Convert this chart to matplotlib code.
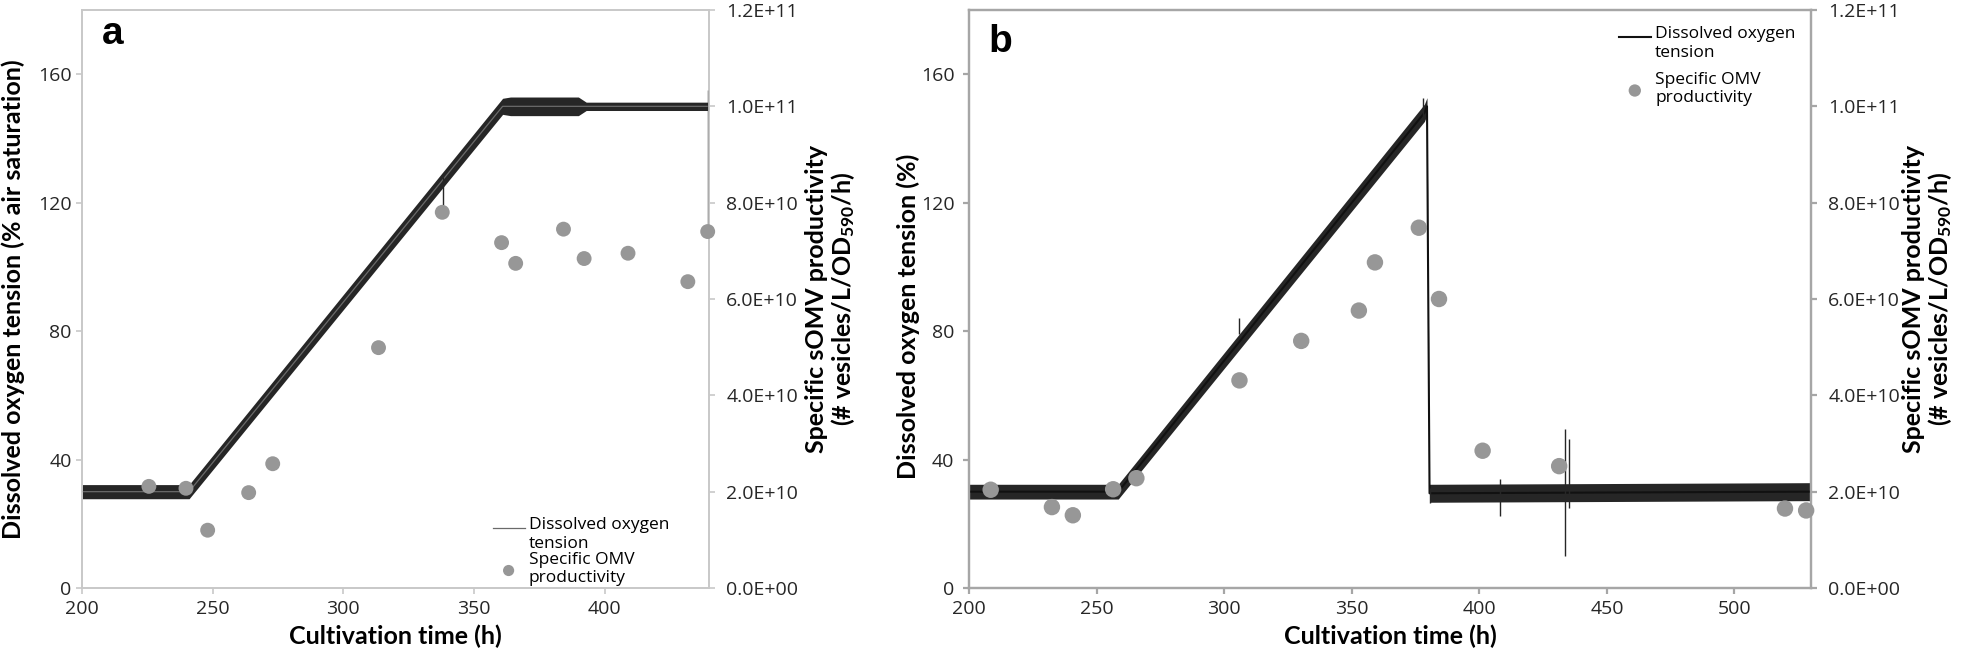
#!/usr/bin/env python3
import numpy as np
import matplotlib
matplotlib.use("Agg")
import matplotlib.pyplot as plt
from matplotlib.legend_handler import HandlerLine2D, HandlerPathCollection

plt.rcParams['font.family'] = ['Open Sans', 'Noto Sans', 'DejaVu Sans']
plt.rcParams['mathtext.fontset'] = 'custom'
plt.rcParams['mathtext.bf'] = 'Lato:bold'
plt.rcParams['mathtext.rm'] = 'Lato:bold'
plt.rcParams['mathtext.default'] = 'bf'

# ---- panel a: dissolved oxygen trace (centre line + noise half-width, % air sat.)
do_a_t = [200, 241, 361, 364, 390, 393, 440]
do_a_v = [30, 30, 150, 150, 150, 150, 150]
do_a_w = [2.2, 2.2, 2.5, 2.9, 2.9, 1.3, 1.3]
# isolated spikes (time, low, high)
spikes_a = [(338, 119, 128), (439.6, 113, 155)]

# specific OMV productivity (vesicles/L/OD590/h)
omv_a_t = [225.6, 239.8, 248.1, 263.8, 273.0, 313.5, 337.9, 360.6, 366.0,
           384.3, 392.2, 409.0, 431.9, 439.5]
omv_a_v = [2.11e10, 2.07e10, 1.20e10, 1.98e10, 2.58e10, 4.99e10, 7.80e10, 7.17e10,
           6.74e10, 7.45e10, 6.84e10, 6.95e10, 6.36e10, 7.40e10]

# ---- panel b
do_b_t = [200, 258.5, 378.5, 379.5, 380.5, 530]
do_b_v = [30, 30, 148, 150, 29.5, 30]
do_b_w = [2.3, 2.3, 2.7, 2.7, 2.8, 2.8]
spikes_b = [(408, 22.5, 34), (433.5, 10, 49.5), (435, 25, 46.5), (530, 27, 34),
            (380.5, 26.5, 31), (306, 79, 84), (378, 146, 152.5)]

omv_b_t = [208.5, 232.5, 240.7, 256.5, 265.6, 306.0, 330.2, 352.8, 359.1,
           376.3, 384.2, 401.3, 431.3, 519.8, 528.1]
omv_b_v = [2.04e10, 1.68e10, 1.51e10, 2.05e10, 2.28e10, 4.31e10, 5.13e10, 5.76e10,
           6.76e10, 7.48e10, 6.00e10, 2.85e10, 2.53e10, 1.65e10, 1.61e10]

left_ticks = [0, 40, 80, 120, 160]
right_ticks = [0, 2e10, 4e10, 6e10, 8e10, 1e11, 1.2e11]
legend_labels = ['Dissolved oxygen\ntension', 'Specific OMV\nproductivity']
right_label = 'Specific sOMV productivity\n(# vesicles/L/OD$_{590}$/h)'

TICK_COLOR = '#262626'
LABEL_FONT = dict(family=['Lato', 'DejaVu Sans'], fontweight='bold', fontsize=18)


# legend handles sit on the first text line, not the middle of the two lines
class TopLine(HandlerLine2D):
    def create_artists(self, legend, orig, xd, yd, w, h, fs, trans):
        return super().create_artists(legend, orig, xd, yd - 0.75 * fs, w, h, fs, trans)


class TopDots(HandlerPathCollection):
    def create_artists(self, legend, orig, xd, yd, w, h, fs, trans):
        return super().create_artists(legend, orig, xd, yd - 0.75 * fs, w, h, fs, trans)


def draw_panel(ax, do_t, do_v, do_w, spikes, omv_t, omv_v, xmax, xticks,
               frame_color, frame_lw, line_color, line_lw, ylabel, marker_size,
               left_pad):
    t = np.array(do_t)
    v = np.array(do_v)
    w = np.array(do_w)
    ax.fill_between(t, v - w, v + w, color='#262626', lw=0, zorder=2)
    line, = ax.plot(t, v, color=line_color, lw=line_lw, zorder=3)
    for (st, lo, hi) in spikes:
        ax.vlines(st, lo, hi, color='#262626', lw=1.0, zorder=3)

    ax.set_xlim(200, xmax)
    ax.set_ylim(0, 180)
    ax.set_xticks(xticks)
    ax.set_yticks(left_ticks)

    ax2 = ax.twinx()
    sc = ax2.scatter(omv_t, omv_v, s=marker_size, color='#979797', zorder=5,
                     edgecolors='none', clip_on=False)
    ax2.set_ylim(0, 1.2e11)
    ax2.set_yticks(right_ticks)
    ax2.set_yticklabels([f"{r:.1E}" for r in right_ticks])

    for a in (ax, ax2):
        for s in a.spines.values():
            s.set_color(frame_color)
            s.set_linewidth(frame_lw)
        a.tick_params(colors=frame_color, labelcolor=TICK_COLOR, labelsize=14,
                      length=4.5, width=frame_lw)
    ax.tick_params(axis='x', pad=4)
    ax.tick_params(axis='y', pad=left_pad)
    ax2.tick_params(axis='y', pad=8)

    ax.set_xlabel('Cultivation time (h)', **LABEL_FONT)
    ax.set_ylabel(ylabel, **LABEL_FONT)
    ax2.set_ylabel(right_label, linespacing=1.05, **LABEL_FONT)
    return ax2, line, sc


def add_legend(ax2, line, sc, anchor, loc, spacing):
    leg = ax2.legend([line, sc], legend_labels, loc=loc, bbox_to_anchor=anchor,
                     frameon=False, fontsize=12.5, handlelength=1.85, handletextpad=0.25,
                     labelspacing=spacing, markerscale=0.75, borderpad=0.1,
                     borderaxespad=0.0,
                     handler_map={line: TopLine(), sc: TopDots()})
    for txt in leg.get_texts():
        txt.set_linespacing(1.2)
    return leg


fig = plt.figure(figsize=(19.61, 6.54), dpi=100)
H = 654.0
W = 1961.0
ax_a = fig.add_axes([82 / W, 66 / H, 627 / W, 578 / H])
ax_b = fig.add_axes([969 / W, 66 / H, 842 / W, 578 / H])

ax2_a, line_a, sc_a = draw_panel(ax_a, do_a_t, do_a_v, do_a_w, spikes_a, omv_a_t, omv_a_v,
                                 440, [200, 250, 300, 350, 400], '#c8c8c8', 1.2,
                                 '#6a6a6a', 0.9,
                                 'Dissolved oxygen tension (% air saturation)', 115, 3)
ax2_b, line_b, sc_b = draw_panel(ax_b, do_b_t, do_b_v, do_b_w, spikes_b, omv_b_t, omv_b_v,
                                 530, [200, 250, 300, 350, 400, 450, 500], '#a6a6a6', 1.6,
                                 '#111111', 1.5,
                                 'Dissolved oxygen tension (%)', 140, 6)

# panel letters
ax_a.text(0.032, 0.941, 'a', transform=ax_a.transAxes, fontsize=28, fontweight='bold',
          family=['Liberation Sans', 'DejaVu Sans'], va='baseline', ha='left')
ax_b.text(0.0226, 0.928, 'b', transform=ax_b.transAxes, fontsize=28, fontweight='bold',
          family=['Liberation Sans', 'DejaVu Sans'], va='baseline', ha='left')

ax_a.yaxis.set_label_coords(-0.091, 0.5)
ax2_a.yaxis.set_label_coords(1.153, 0.5)
ax_a.xaxis.set_label_coords(0.5, -0.064)
ax_b.yaxis.set_label_coords(-0.058, 0.47)
ax2_b.yaxis.set_label_coords(1.108, 0.5)
ax_b.xaxis.set_label_coords(0.5, -0.064)

add_legend(ax2_a, line_a, sc_a, (0.652, 0.0), 'lower left', 0.0)
add_legend(ax2_b, line_b, sc_b, (0.7696, 0.975), 'upper left', 0.65)

fig.savefig('out.png', dpi=100)
